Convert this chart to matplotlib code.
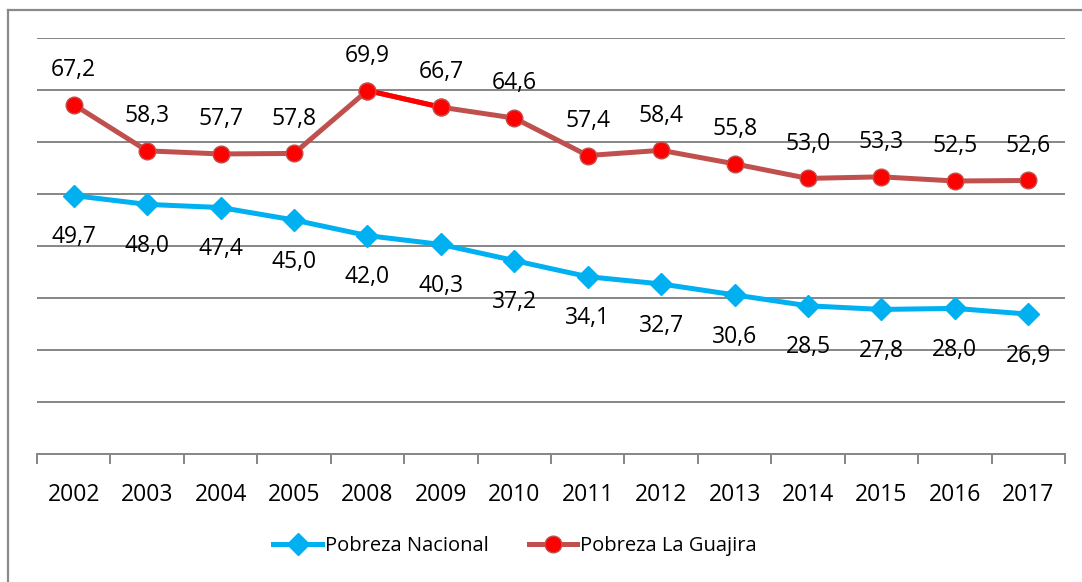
import matplotlib.pyplot as plt
from matplotlib.lines import Line2D

plt.rcParams['font.family'] = ['Open Sans', 'DejaVu Sans']

years = ['2002', '2003', '2004', '2005', '2008', '2009', '2010', '2011',
         '2012', '2013', '2014', '2015', '2016', '2017']
nacional = [49.7, 48.0, 47.4, 45.0, 42.0, 40.3, 37.2, 34.1, 32.7, 30.6, 28.5, 27.8, 28.0, 26.9]
guajira = [67.2, 58.3, 57.7, 57.8, 69.9, 66.7, 64.6, 57.4, 58.4, 55.8, 53.0, 53.3, 52.5, 52.6]

x = list(range(len(years)))

fig = plt.figure(figsize=(10.82, 5.82), dpi=100)
ax = fig.add_axes([37 / 1082, 128 / 582, 1028 / 1082, 416 / 582])

grid_c = '#868686'
ax.set_ylim(0, 80)
ax.set_xlim(-0.5, len(years) - 0.5)
ax.set_yticks(range(10, 81, 10))
ax.yaxis.grid(True, color=grid_c, linewidth=1.4)
ax.set_axisbelow(True)
ax.tick_params(axis='y', left=False, labelleft=False)
for s in ['left', 'right', 'top']:
    ax.spines[s].set_visible(False)
ax.spines['bottom'].set_color(grid_c)
ax.spines['bottom'].set_linewidth(1.4)

# ticks at category boundaries, labels at centers
ax.set_xticks([i - 0.5 for i in range(len(years) + 1)])
ax.set_xticklabels([])
ax.tick_params(axis='x', which='major', direction='out', length=7, width=1.4, color=grid_c)
ax.set_xticks(x, minor=True)
ax.set_xticklabels(years, minor=True, fontsize=16.5)
ax.tick_params(axis='x', which='minor', length=0, pad=21)

ln1, = ax.plot(x, nacional, color='#00B0F0', linewidth=3.6, marker='D',
               markersize=11, markerfacecolor='#00B0F0', markeredgecolor='#00B0F0',
               label='Pobreza Nacional', zorder=3)
ln2, = ax.plot(x, guajira, color='#C0504D', linewidth=3.6, marker='o',
               markersize=12, markerfacecolor='#FF0000', markeredgecolor='#C0504D',
               markeredgewidth=1, label='Pobreza La Guajira', zorder=3)
# highlighted segment 2008-2009
ax.plot(x[4:6], guajira[4:6], color='#FF0000', linewidth=3.6, zorder=3.5)
ax.plot(x[4:6], guajira[4:6], linestyle='none', marker='o', markersize=12,
        markerfacecolor='#FF0000', markeredgecolor='#C0504D', markeredgewidth=1, zorder=4)


def fmt(v):
    return f'{v:.1f}'.replace('.', ',')


for i, v in enumerate(guajira):
    ax.annotate(fmt(v), (i, v), xytext=(0, 25), textcoords='offset points',
                ha='center', va='center', fontsize=16.5)
for i, v in enumerate(nacional):
    ax.annotate(fmt(v), (i, v), xytext=(0, -30), textcoords='offset points',
                ha='center', va='center', fontsize=16.5)

fig.legend(handles=[ln1, ln2], loc='center', bbox_to_anchor=(0.476, 0.062),
           ncol=2, frameon=False, fontsize=14.5, handlelength=2.4,
           handletextpad=0.15, columnspacing=2.0)

# outer chart frame (top and left visible)
fig.add_artist(Line2D([8 / 1082, 1], [1 - 10 / 582, 1 - 10 / 582],
                      transform=fig.transFigure, color='#8a8a8a', linewidth=1.6))
fig.add_artist(Line2D([8 / 1082, 8 / 1082], [0, 1 - 10 / 582],
                      transform=fig.transFigure, color='#8a8a8a', linewidth=1.6))

fig.savefig('out.png', dpi=100)
plt.close()
